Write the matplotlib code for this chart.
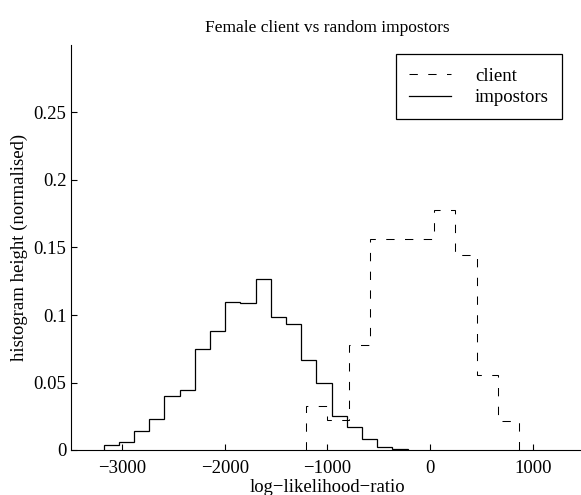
"""Female client vs random impostors histogram
"""
import numpy as np
import matplotlib
matplotlib.use('Agg')
import matplotlib.pyplot as plt

params = {
    'font.family': 'Liberation Serif',
    'font.size': 13.5,
    'axes.linewidth': 0.8,
    'xtick.direction': 'in',
    'ytick.direction': 'in',
    'xtick.major.size': 4,
    'ytick.major.size': 4,
    'axes.unicode_minus': True,
}
plt.rcParams.update(params)

# impostor histogram: 20 bins
imp_start, imp_width = -3179, 148.0
imp_heights = [0.0037, 0.0057, 0.0144, 0.0228, 0.040, 0.0446, 0.0749, 0.088,
               0.110, 0.109, 0.127, 0.0987, 0.093, 0.067, 0.050, 0.0253,
               0.0173, 0.008, 0.0019, 0.0007]

# client histogram: 10 bins
cli_start, cli_width = -1208, 207.8
cli_heights = [0.0328, 0.022, 0.0776, 0.156, 0.156, 0.156, 0.1776, 0.1444,
               0.0553, 0.0217]

xticks = [-3000, -2000, -1000, 0, 1000]
yticks = [0, 0.05, 0.1, 0.15, 0.2, 0.25]

imp_edges = imp_start + imp_width * np.arange(len(imp_heights) + 1)
cli_edges = cli_start + cli_width * np.arange(len(cli_heights) + 1)

fig = plt.figure(figsize=(5.81, 4.95), dpi=100)
ax = fig.add_axes([70.7/581, 45/495, 513.5/581, 405/495])

ax.stairs(cli_heights, cli_edges, baseline=0, color='k', lw=0.75,
          linestyle=(0, (8, 10)), label='client')
ax.stairs(imp_heights, imp_edges, baseline=0, color='k', lw=0.9,
          label='impostors')

ax.set_xlim(-3500, 1500)
ax.set_ylim(0, 0.3)
ax.set_xticks(xticks)
ax.set_yticks(yticks)
ax.set_yticklabels(['0', '0.05', '0.1', '0.15', '0.2', '0.25'])
ax.spines['top'].set_visible(False)
ax.spines['right'].set_visible(False)
ax.tick_params(axis='x', pad=7)
ax.tick_params(axis='y', pad=3)

ax.set_title('Female client vs random impostors', fontsize=12.5, pad=9)
ax.set_xlabel('log\u2212likelihood\u2212ratio', labelpad=2)
ax.set_ylabel('histogram height (normalised)', labelpad=4)

leg = ax.legend(loc='upper center', bbox_to_anchor=(479/581, 1 - 54.3/495),
                bbox_transform=fig.transFigure, borderaxespad=0,
                fancybox=False, edgecolor='k', framealpha=1,
                handlelength=2.2, handletextpad=1.3, labelspacing=0.25,
                borderpad=0.7)
leg.get_frame().set_linewidth(0.9)

fig.savefig('out.png', dpi=100)
